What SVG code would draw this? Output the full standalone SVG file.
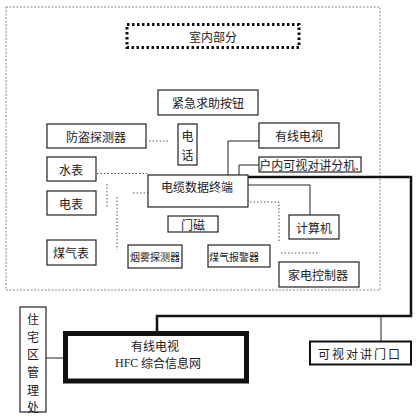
<svg xmlns="http://www.w3.org/2000/svg" width="419" height="420" viewBox="0 0 419 420">
<style>
.bx{fill:#fff;stroke:#222;stroke-width:1.2}
.t{font-family:"Noto Sans CJK SC","Noto Sans CJK TC",sans-serif;font-size:12px;fill:#222;text-anchor:middle;dominant-baseline:central}
.s{font-size:10px}
.ln{fill:none;stroke:#222;stroke-width:1}
.dl{fill:none;stroke:#555;stroke-width:1;stroke-dasharray:1.5 2}
</style>
<rect width="419" height="420" fill="#fff"/>
<rect x="6" y="7" width="374" height="283" fill="none" stroke="#888" stroke-width="1" stroke-dasharray="2 1.5"/>
<g id="connectors">
<path class="dl" d="M149 141H170"/>
<path class="dl" d="M97 173.5H147V176"/>
<path class="dl" d="M133 193H148"/>
<path class="dl" d="M107 184V207"/>
<path class="dl" d="M117 197V250"/>
<path class="dl" d="M250 202H279V242"/>
<path class="dl" d="M281 253H320"/>
<path class="ln" d="M228 175V141H259"/>
<path class="ln" d="M239 175V165H259"/>
<path class="ln" d="M248 185H310V215"/>
<path fill="none" stroke="#111" stroke-width="2.5" d="M248 177H411V316H157V331"/>
<path class="ln" d="M381 316V341"/>
<path class="ln" d="M46 358H63"/>
</g>
<g id="title"><rect x="127" y="24.5" width="172" height="23" fill="none" stroke="#111" stroke-width="3" stroke-dasharray="2.5 2.5"/><text class="t" x="213" y="36">室内部分</text></g>
<g id="jinji"><rect class="bx" x="158" y="90" width="100" height="25"/><text class="t" x="208" y="102">紧急求助按钮</text></g>
<g id="fangdao"><rect class="bx" x="47" y="124" width="99" height="24"/><text class="t" x="96" y="136">防盗探测器</text></g>
<g id="dianhua"><rect class="bx" x="178" y="124" width="19" height="41"/><text class="t" x="187.5" y="135" font-size="11">电</text><text class="t" x="187.5" y="154" font-size="11">话</text></g>
<g id="youxian"><rect class="bx" x="259" y="123" width="80" height="25"/><text class="t" x="299" y="135.5">有线电视</text></g>
<g id="fenji"><rect class="bx" x="259" y="157" width="102" height="15"/><text class="t" x="309" y="164.5">户内可视对讲分机.</text></g>
<g id="shuibiao"><rect class="bx" x="47" y="157" width="49" height="24"/><text class="t" x="71" y="169">水表</text></g>
<g id="zhongduan"><rect class="bx" x="148" y="175" width="100" height="32"/><text class="t" x="197" y="186">电缆数据终端</text></g>
<g id="dianbiao"><rect class="bx" x="47" y="191" width="49" height="24"/><text class="t" x="71" y="203">电表</text></g>
<g id="menci"><rect class="bx" x="168" y="216" width="50" height="16"/><text class="t" x="193" y="224">门磁</text></g>
<g id="jisuanji"><rect class="bx" x="289" y="215" width="50" height="24"/><text class="t" x="314" y="227">计算机</text></g>
<g id="meiqibiao"><rect class="bx" x="47" y="240" width="49" height="25"/><text class="t" x="71" y="252">煤气表</text></g>
<g id="yanwu"><rect class="bx" x="128" y="245" width="54" height="23"/><text class="t s" x="155" y="256">烟雾探测器</text></g>
<g id="baojing"><rect class="bx" x="208" y="245" width="62" height="22"/><text class="t s" x="234" y="256">煤气报警器</text></g>
<g id="jiadian"><rect class="bx" x="279" y="262" width="80" height="25"/><text class="t" x="318" y="274">家电控制器</text></g>
<g id="guanli"><rect class="bx" x="20" y="307" width="26" height="105"/>
<text class="t" x="33" y="318">住</text><text class="t" x="33" y="336">宅</text><text class="t" x="33" y="353">区</text><text class="t" x="33" y="371">管</text><text class="t" x="33" y="389">理</text><text class="t" x="33" y="406">处</text></g>
<g id="hfc"><rect x="65.5" y="333.5" width="181" height="47.5" fill="#fff" stroke="#111" stroke-width="5"/>
<text class="t" x="155" y="345">有线电视</text>
<text x="115" y="367" font-family="Liberation Serif,serif" font-size="12" fill="#222">HFC</text>
<text class="t" x="171" y="362">综合信息网</text></g>
<g id="menkou"><rect x="310" y="341.5" width="101" height="23" fill="#fff" stroke="#111" stroke-width="2"/><text class="t" x="360" y="353" letter-spacing="2">可视对讲门口</text></g>
</svg>
